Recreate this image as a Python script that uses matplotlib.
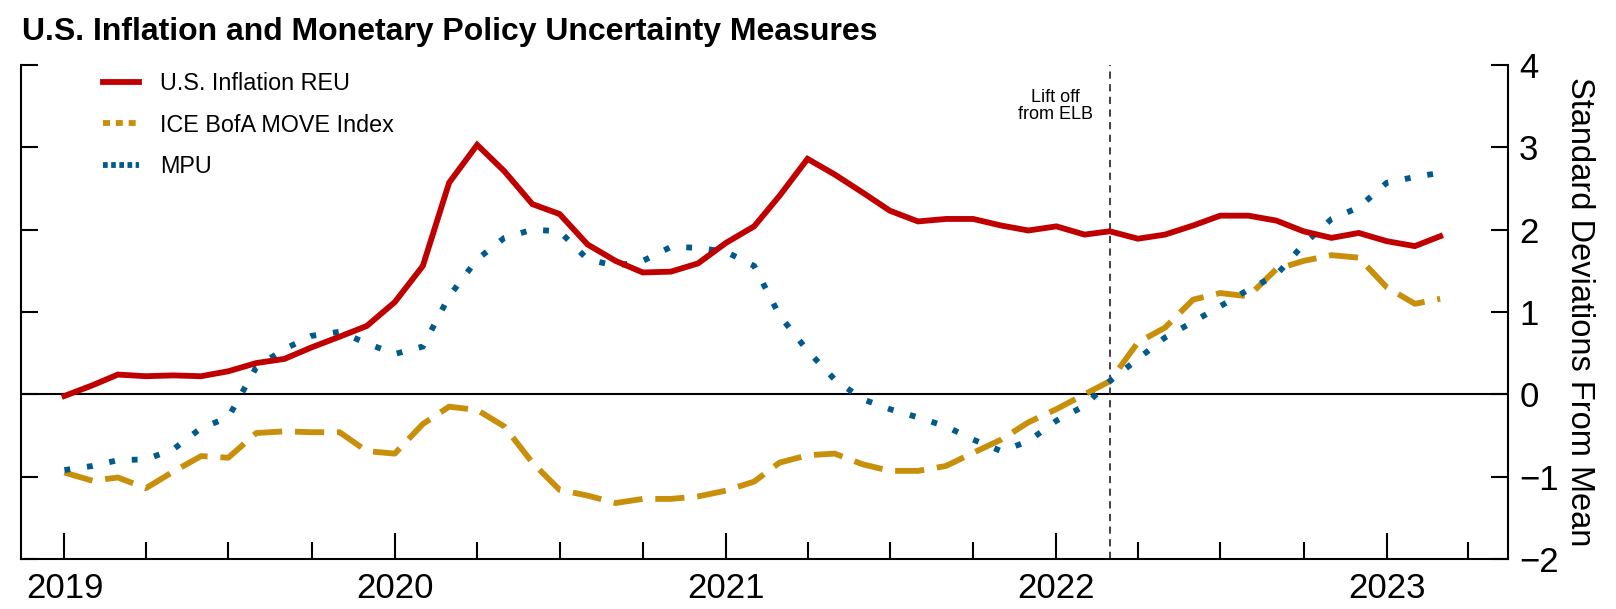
import pandas as pd
import matplotlib.pyplot as plt
import matplotlib.dates as mdates

plt.rcParams['font.family'] = ['Liberation Sans', 'DejaVu Sans']

# monthly data, Jan 2019 - Mar 2023 (standard deviations from mean)
months = pd.date_range('2019-01-01', '2023-03-01', freq='MS')

inflation_reu = [
    -0.02, 0.11, 0.24, 0.22, 0.23, 0.22, 0.28, 0.38, 0.43, 0.57, 0.70, 0.83,
    1.12, 1.56, 2.57, 3.03, 2.71, 2.31, 2.19, 1.82, 1.62, 1.48, 1.49, 1.59,
    1.84, 2.04, 2.41, 2.86, 2.67, 2.45, 2.23, 2.10, 2.13, 2.13, 2.05, 1.99,
    2.04, 1.94, 1.98, 1.89, 1.94, 2.05, 2.17, 2.17, 2.11, 1.98, 1.90, 1.96,
    1.86, 1.80, 1.92,
]

move_index = [
    -0.95, -1.05, -1.01, -1.14, -0.94, -0.75, -0.77, -0.47, -0.45, -0.46, -0.46, -0.69,
    -0.72, -0.36, -0.15, -0.19, -0.39, -0.83, -1.16, -1.23, -1.32, -1.27, -1.27, -1.24,
    -1.17, -1.06, -0.83, -0.74, -0.72, -0.85, -0.93, -0.93, -0.87, -0.71, -0.55, -0.34,
    -0.18, 0.0, 0.16, 0.63, 0.81, 1.15, 1.23, 1.19, 1.52, 1.62, 1.69, 1.66,
    1.30, 1.10, 1.16,
]

mpu = [
    -0.92, -0.87, -0.80, -0.79, -0.67, -0.41, -0.28, 0.33, 0.55, 0.71, 0.76, 0.62,
    0.49, 0.58, 1.19, 1.64, 1.90, 2.00, 1.98, 1.64, 1.56, 1.62, 1.79, 1.78,
    1.73, 1.56, 0.96, 0.53, 0.18, -0.06, -0.18, -0.28, -0.39, -0.55, -0.69, -0.57,
    -0.32, -0.14, 0.16, 0.43, 0.69, 0.88, 1.07, 1.27, 1.45, 1.82, 2.13, 2.27,
    2.57, 2.64, 2.69,
]

liftoff = pd.Timestamp('2022-03-01')

red = '#C00000'
gold = '#C8900A'
blue = '#005A8C'

fig = plt.figure(figsize=(16.16, 6.09), dpi=100)
ax = fig.add_axes([0.013, 0.0821, 0.9332 - 0.013, 0.8933 - 0.0821])

ax.axhline(0, color='black', lw=1.5, zorder=1)
ax.axvline(liftoff, color='#333333', lw=1.3, linestyle=(0, (4, 3)), zorder=1)

ax.plot(months, inflation_reu, color=red, lw=4.2, solid_joinstyle='miter',
        label='U.S. Inflation REU', zorder=3)
ax.plot(months, move_index, color=gold, lw=4.2, dashes=(5.0, 2.2),
        label='ICE BofA MOVE Index', zorder=2)
ax.plot(months, mpu, color=blue, lw=4.2, dashes=(1, 2.9),
        label='MPU', zorder=2)

ax.annotate('Lift off\nfrom ELB', xy=(liftoff, 3.5), xytext=(-12, 0),
            textcoords='offset points', ha='right', va='center',
            multialignment='center', fontsize=13, linespacing=1.0)

ax.set_ylim(-2, 4)
ax.set_xlim(pd.Timestamp('2018-11-14'), pd.Timestamp('2023-05-15'))

ax.xaxis.set_major_locator(mdates.YearLocator())
ax.xaxis.set_major_formatter(mdates.DateFormatter('%Y'))
ax.xaxis.set_minor_locator(mdates.MonthLocator(bymonth=[4, 7, 10]))
ax.tick_params(axis='x', which='major', direction='in', length=19, width=1.5,
               labelsize=25, pad=9)
ax.tick_params(axis='x', which='minor', direction='in', length=12, width=1.5)

ax.set_yticks([-2, -1, 0, 1, 2, 3, 4])
ax.tick_params(axis='y', which='both', direction='in', length=12, width=1.5,
               left=True, right=True, labelleft=False, labelright=True,
               labelsize=25, pad=8)
ax.yaxis.set_label_position('right')
ax.set_ylabel('Standard Deviations From Mean', fontsize=23.5, rotation=270,
              labelpad=26)

ax.spines['top'].set_visible(False)
for side in ['left', 'right', 'bottom']:
    ax.spines[side].set_linewidth(1.5)

leg = ax.legend(loc='upper left', bbox_to_anchor=(0.055, 0.985), frameon=False,
                fontsize=16.8, borderpad=0, borderaxespad=0, handlelength=1.55,
                handletextpad=0.9, labelspacing=0.78)
leg.get_lines()[1].set_dashes((1.2, 1.0))
leg.get_lines()[2].set_dashes((0.8, 0.6))

fig.text(0.0136, 0.948, 'U.S. Inflation and Monetary Policy Uncertainty Measures',
         fontsize=23, fontweight='bold', va='center', ha='left')

fig.savefig('out.png', dpi=100)
